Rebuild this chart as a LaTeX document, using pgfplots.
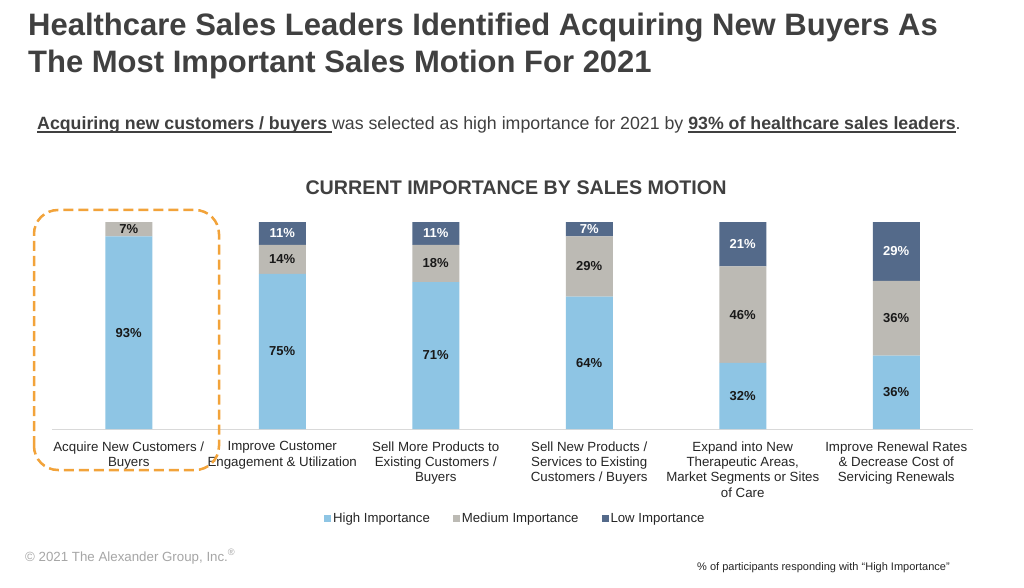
\documentclass[border=0pt]{standalone}
\usepackage{pgfplots}
\pgfplotsset{compat=1.18}
\usepackage{fontspec}
\setmainfont{Liberation Sans}
\definecolor{hi}{HTML}{8EC5E4}
\definecolor{med}{HTML}{BCBAB4}
\definecolor{low}{HTML}{546A8A}
\definecolor{txt}{HTML}{404040}
\definecolor{lab}{HTML}{262626}
\definecolor{org}{HTML}{F2A33A}
\newcommand{\ul}[1]{\setbox0\hbox{#1}\rlap{\rule[-2.6pt]{\wd0}{1.3pt}}\box0}
\begin{document}
\begin{tikzpicture}[x=1pt,y=1pt]
\path[use as bounding box, fill=white] (0,0) rectangle (1024,587);
% titles
\node[anchor=base west, inner sep=0, text=txt, font=\fontsize{31}{37}\selectfont\bfseries] at (28,551) {Healthcare Sales Leaders Identified Acquiring New Buyers As};
\node[anchor=base west, inner sep=0, text=txt, font=\fontsize{31}{37}\selectfont\bfseries] at (28,514.5) {The Most Important Sales Motion For 2021};
\node[anchor=base west, inner sep=0, text=txt, font=\fontsize{17.75}{22}\selectfont] at (37,457) {\textbf{\ul{Acquiring new customers / buyers }}was selected as high importance for 2021 by \textbf{\ul{93\% of healthcare sales leaders}}.};
\node[anchor=base, inner sep=0, text=txt, font=\fontsize{19.7}{22}\selectfont\bfseries] at (516,392) {CURRENT IMPORTANCE BY SALES MOTION};
% chart
\begin{axis}[
  at={(52pt,158pt)}, anchor=south west,
  scale only axis, width=921pt, height=207pt,
  ybar stacked, bar width=47pt,
  xmin=-0.5, xmax=5.5, ymin=0, ymax=100,
  enlargelimits=false, clip=false,
  axis x line*=bottom, hide y axis,
  x axis line style={-, draw=black!15, line width=1pt},
  xtick={0,1,2,3,4,5},
  major tick length=0pt,
  xticklabels={{Acquire New Customers /\\Buyers},
               {Improve Customer\\Engagement \& Utilization},
               {Sell More Products to\\Existing Customers /\\Buyers},
               {Sell New Products /\\Services to Existing\\Customers / Buyers},
               {Expand into New\\Therapeutic Areas,\\Market Segments or Sites\\of Care},
               {Improve Renewal Rates\\\& Decrease Cost of\\Servicing Renewals}},
  xticklabel style={align=center, text=lab, font=\fontsize{13.3}{15.3}\selectfont, yshift=-9pt},
  point meta=explicit symbolic,
  nodes near coords,
  every node near coord/.append style={anchor=center, font=\fontsize{13}{15}\selectfont\bfseries, text=black!90},
  legend columns=3,
  legend style={draw=none, at={(0.503,-0.431)}, anchor=center, font=\fontsize{13.2}{15}\selectfont, text=lab,
     /tikz/every even column/.append style={column sep=21pt}},
  legend image code/.code={\fill[#1] (0pt,-3.5pt) rectangle (7pt,3.5pt);},
]
\addplot+[fill=hi, draw=none] coordinates {(0,93)[93\%] (1,75)[75\%] (2,71)[71\%] (3,64)[64\%] (4,31.9)[32\%] (5,35.4)[36\%]};
\addplot+[fill=med, draw=none] coordinates {(0,7)[7\%] (1,14)[14\%] (2,18)[18\%] (3,29)[29\%] (4,46.7)[46\%] (5,36.1)[36\%]};
\addplot+[fill=low, draw=none, every node near coord/.append style={text=white}] coordinates {(0,0)[] (1,11)[11\%] (2,11)[11\%] (3,7)[7\%] (4,21.4)[21\%] (5,28.5)[29\%]};
\legend{High Importance, Medium Importance, Low Importance}
\end{axis}
% highlight box
\draw[org, line width=2.5pt, dash pattern=on 10pt off 5pt, rounded corners=24pt] (34,117) rectangle (219,377);
% footers
\node[anchor=base west, inner sep=0, text=black!35, font=\fontsize{13.3}{15}\selectfont] at (25,26) {© 2021 The Alexander Group, Inc.\textsuperscript{®}};
\node[anchor=base west, inner sep=0, text=lab, font=\fontsize{11}{12}\selectfont] at (697,17) {\% of participants responding with “High Importance”};
\end{tikzpicture}
\end{document}
